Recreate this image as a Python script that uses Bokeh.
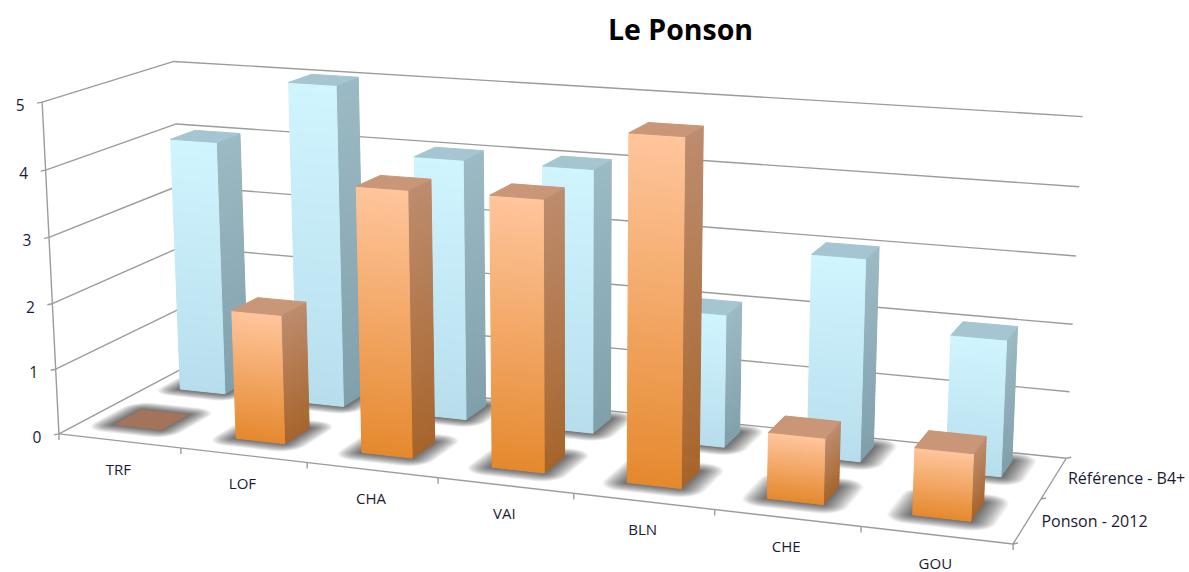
from bokeh.plotting import figure
from bokeh.embed import file_html
from bokeh.resources import INLINE
from bokeh.models import Range1d
from bokeh.core.properties import value
import numpy as np

# ---- data ----
categories = ["TRF", "LOF", "CHA", "VAI", "BLN", "CHE", "GOU"]
series_names = ["Ponson - 2012", "Référence - B4+"]
ponson = [0, 1.95, 3.95, 3.97, 4.98, 0.95, 0.95]
reference = [4, 5, 4, 4, 2, 3, 2]
value_ticks = [0, 1, 2, 3, 4, 5]
title_text = "Le Ponson"

W, H = 1189, 572
FONT = "Open Sans"

# ---- camera: fit a projective map (category, depth, value) -> page pixel ----
anchors = [
    ((0, 0, 0), (60, 432)), ((0, 0, 1), (55, 366)), ((0, 0, 5), (40, 102)),
    ((1, 0, 0), (1012, 547)), ((0, 1, 0), (183, 372)), ((0, 1, 5), (175, 60)),
    ((1, 1, 0), (1067, 453)), ((1, 1, 2), (1070, 322)), ((1, 1, 5), (1083, 118)),
    ((1 / 7, 0, 0), (181.5, 445)), ((2 / 7, 0, 0), (307, 462)), ((6 / 7, 0, 0), (859, 530)),
    ((1, .5, 0), (1042, 497)),
]
A = []
for (a, b, c), (x, y) in anchors:
    A.append([a, b, c, 1, 0, 0, 0, 0, -x * a, -x * b, -x * c, -x])
    A.append([0, 0, 0, 0, a, b, c, 1, -y * a, -y * b, -y * c, -y])
CAM = np.linalg.svd(np.array(A, float))[2][-1].reshape(3, 4)


def proj(u, v, w):
    q = CAM @ np.array([u, v, w, 1.0])
    return q[0] / q[2], q[1] / q[2]


def poly(pts):
    xy = [proj(*p) for p in pts]
    return [a for a, _ in xy], [b for _, b in xy]


p = figure(width=W, height=H, x_range=Range1d(0, W), y_range=Range1d(H, 0),
           output_backend="svg", toolbar_location=None, min_border=0,
           outline_line_color=None, background_fill_color="white", border_fill_color="white")
p.axis.visible = False
p.grid.visible = False

# ---- walls, floor outline, ticks ----
GRID = "#9c9c9c"
lx, ly = [], []
for t in value_ticks:
    a, b = poly([(0, 0, t), (0, 1, t), (1, 1, t)])
    lx.append(a); ly.append(b)
a, b = poly([(0, 0, 0), (0, 0, 5)]); lx.append(a); ly.append(b)
a, b = poly([(0, 0, 0), (1, 0, 0), (1, 1, 0)]); lx.append(a); ly.append(b)
for t in value_ticks:
    x0, y0 = proj(0, 0, t)
    lx.append([x0, x0 - 5]); ly.append([y0, y0 + 1])
for i in range(len(categories) + 1):
    x0, y0 = proj(i / len(categories), 0, 0)
    lx.append([x0, x0]); ly.append([y0, y0 + 6])
for v in (0, .5, 1):
    x0, y0 = proj(1, v, 0)
    lx.append([x0, x0 + 5]); ly.append([y0, y0 - 1])
p.multi_line(lx, ly, line_color=GRID, line_width=1.4)

# ---- bars ----
N = len(categories)
BAR_U = {0: 0.39 / N, 1: 0.385 / N}
U_SHIFT = -0.006
V_FRONT = {0: (0.18, 0.39), 1: (0.70, 0.90)}
BLUE = dict(front=("#d0f5ff", "#b8deed"), side=("#9cbac4", "#80a0ac"), top="#a5c6d0")
ORANGE = dict(front=("#ffc59c", "#e5892e"), side=("#bd8c6e", "#a7642a"), top="#c99678")


def mix(c1, c2, f):
    a = [int(c1[i:i + 2], 16) for i in (1, 3, 5)]
    b = [int(c2[i:i + 2], 16) for i in (1, 3, 5)]
    return "#%02x%02x%02x" % tuple(round(x + (y - x) * f) for x, y in zip(a, b))


def rounded(u0, u1, v0, v1, mu, mv):
    out = []
    for cu, cv, start in ((u1, v1, 0), (u0, v1, 90), (u0, v0, 180), (u1, v0, 270)):
        for ang in np.radians(np.arange(start, start + 91, 15)):
            out.append((cu + mu * np.cos(ang), cv + mv * np.sin(ang), 0))
    return out


sx, sy = [], []
for s, vals in ((1, reference), (0, ponson)):
    v0, v1 = V_FRONT[s]
    for i in range(N):
        uc = (i + .5) / N + U_SHIFT
        for k in range(1, 25):
            f = k / 24
            a, b = poly(rounded(uc - BAR_U[s] / 2, uc + BAR_U[s] / 2, v0, v1, .024 * f, .10 * f))
            sx.append(a); sy.append(b)
p.patches(sx, sy, fill_color="#000000", fill_alpha=0.03, line_color=None)

xs, ys, cols = [], [], []


def add(pts, col):
    a, b = poly(pts)
    xs.append(a); ys.append(b); cols.append(col)


def bar(i, h, s, pal):
    v0, v1 = V_FRONT[s]
    uc = (i + .5) / N + U_SHIFT
    u0, u1 = uc - BAR_U[s] / 2, uc + BAR_U[s] / 2
    bands = max(2, int(h * 24))
    if h > 0:
        for b in range(bands):
            w0, w1 = h * b / bands, h * (b + 1) / bands
            f = 1 - (b + .5) / bands
            add([(u1, v0, w0), (u1, v1, w0), (u1, v1, w1), (u1, v0, w1)], mix(*pal["side"], f))
        for b in range(bands):
            w0, w1 = h * b / bands, h * (b + 1) / bands
            f = 1 - (b + .5) / bands
            add([(u0, v0, w0), (u1, v0, w0), (u1, v0, w1), (u0, v0, w1)], mix(*pal["front"], f))
    add([(u0, v0, h), (u1, v0, h), (u1, v1, h), (u0, v1, h)], pal["top"] if h > 0 else "#a3735a")


for i, h in enumerate(reference):
    bar(i, h, 1, BLUE)
for i, h in enumerate(ponson):
    bar(i, h, 0, ORANGE)
p.patches(xs, ys, fill_color=cols, line_color=cols, line_width=1)

# ---- texts ----
TXT = "#1b1b33"
tx, ty = zip(*[proj(0, 0, t) for t in value_ticks])
p.text([x - 22 for x in tx], [y + 3 for y in ty], text=[str(t) for t in value_ticks],
       text_font=value(FONT), text_font_size="15.5px", text_color=TXT,
       text_align="center", text_baseline="middle")
cx, cy = zip(*[proj((i + .5) / N, 0, 0) for i in range(N)])
p.text([x - 1 for x in cx], [y + 28 for y in cy], text=categories,
       text_font=value(FONT), text_font_size="15px", text_color=TXT,
       text_align="center", text_baseline="middle")
dx, dy = zip(*[proj(1, v, 0) for v in (.25, .75)])
p.text([x + 14 for x in dx], list(dy), text=series_names,
       text_font=value(FONT), text_font_size="16px", text_color=TXT,
       text_align="left", text_baseline="middle")
p.text([680], [28], text=[title_text], text_font=value(FONT), text_font_style="bold",
       text_font_size="28.5px", text_color="#000000", text_align="center", text_baseline="middle")

open("out.html", "w").write(file_html(p, INLINE))
